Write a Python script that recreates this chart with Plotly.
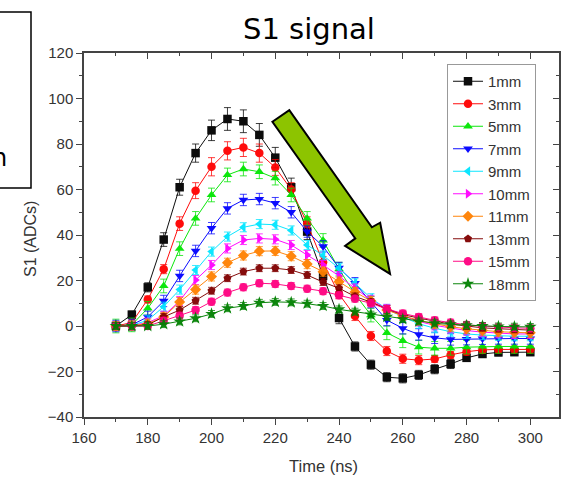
import plotly.graph_objects as go

# ---------------- data ----------------
time_ns = [170, 175, 180, 185, 190, 195, 200, 205, 210, 215, 220, 225, 230, 235,
           240, 245, 250, 255, 260, 265, 270, 275, 280, 285, 290, 295, 300]

s_1mm = [0, 5, 17, 38, 61, 76, 86, 91, 90, 84, 74, 61, 41.5, 22, 3.5, -9, -17, -22.5,
         -23, -21.5, -19, -16.7, -14, -12.3, -11.6, -11.5, -11.5]
s_3mm = [0, 1.5, 11.7, 25, 45, 59.5, 70, 77, 78.5, 76, 69.7, 60, 45, 28, 14, 4.4, -4.4,
         -11, -14.4, -15, -14.5, -12.7, -11.3, -10.5, -10.3, -10.3, -10.3]
s_5mm = [0, 0.5, 7.8, 17.6, 34, 47.3, 57.6, 66.4, 69, 67.8, 65, 57.6, 47.3, 37.6, 25, 14,
         4.8, -3, -6.5, -9.3, -9.8, -9.8, -9.3, -9, -9, -9, -9]
s_7mm = [0, 0.5, 4, 11, 22, 33, 43, 51.7, 55.4, 55.8, 54, 50, 41.5, 35, 25.5, 18.8, 10.5,
         2.6, -1, -3.7, -5.2, -5.9, -5.8, -5.6, -5.5, -5.5, -5.5]
s_9mm = [0, 0.3, 2.5, 8.5, 16, 24.6, 32.7, 39.3, 43.4, 44.8, 44.5, 42, 35.6, 31, 25.4,
         18.8, 12.2, 7.5, 4, 1, -1, -2.5, -3.5, -4, -4.3, -4.5, -4.5]
s_10mm = [0, 0.2, 1.5, 4.5, 11, 20.2, 26.8, 34.1, 37.8, 38.5, 38.1, 35.6, 31.2, 26.8, 22,
          16.5, 11.5, 7.5, 4.5, 2, 0.3, -1, -2, -2.7, -3.2, -3.5, -3.5]
s_11mm = [0, 0.2, 1, 4, 10.5, 16, 21.8, 27.8, 31, 32.9, 33, 30.7, 27.2, 23.9, 19.5, 15,
          11, 7, 4.5, 2.5, 1, -0.3, -1.2, -2, -2.5, -2.8, -3]
s_13mm = [0, 0, 0.5, 4, 7, 11.1, 15.5, 21, 23.9, 25.4, 25.4, 24.6, 22.4, 19.3, 16.6, 13,
          10.5, 7.5, 5, 3.5, 2, 0.8, 0, -0.8, -1.2, -1.5, -1.8]
s_15mm = [0, 0, 0, 2.3, 4.5, 7, 10.7, 14.7, 17, 18.8, 18.5, 17.6, 16.4, 15.3, 13.5, 12,
          10, 7.5, 5.5, 4, 2.5, 1.5, 0.5, 0, -0.5, -0.8, -1]
s_18mm = [0, 0, 0, 0.8, 2, 3.4, 5.3, 7.8, 8.8, 10.2, 10.6, 10.4, 9.8, 8.8, 7.3, 6.3, 5,
          4, 3, 2, 1.2, 0.7, 0.3, 0, -0.2, -0.3, -0.4]

err_1mm = [1, 1.5, 2, 3, 3.5, 4, 4.5, 5, 5, 5, 4.5, 4, 3.5, 3, 2.5, 2, 2, 2, 2, 2, 2, 2,
           1.5, 1.5, 1.5, 1.5, 1.5]
err_3mm = [0.8, 1, 1.5, 2, 3, 3.5, 4, 4, 4, 4, 3.5, 3, 3, 2.5, 2, 2, 2, 2, 2, 2, 1.5, 1.5,
           1.5, 1.5, 1.5, 1.5, 1.5]
err_other = [3, 2.5, 2, 2, 2, 1.5, 1.5, 1.5]   # 5mm ... 18mm (constant per series)

labels = ["1mm", "3mm", "5mm", "7mm", "9mm", "10mm", "11mm", "13mm", "15mm", "18mm"]
values = [s_1mm, s_3mm, s_5mm, s_7mm, s_9mm, s_10mm, s_11mm, s_13mm, s_15mm, s_18mm]

x_ticks = [160, 180, 200, 220, 240, 260, 280, 300]
y_ticks = [-40, -20, 0, 20, 40, 60, 80, 100, 120]

# arrow outline (data coordinates: ns, ADC)
arrow_x = [219.1, 224.4, 250.3, 252.9, 256.0, 241.9, 245.1]
arrow_y = [89.8, 94.9, 43.4, 45.4, 22.9, 35.2, 38.5]

# ---------------- style ----------------
colors = ["#000000", "#FF0000", "#00E600", "#0000FF", "#00E5FF", "#FF00FF",
          "#FF8000", "#800000", "#FF0080", "#008000"]
symbols = ["square", "circle", "triangle-up", "triangle-down", "triangle-left",
           "triangle-right", "diamond", "pentagon", "circle", "star"]

W_FIG, H_FIG = 562, 482
L, R, T, B = 84, 3, 53, 65
PW = W_FIG - L - R
PH = H_FIG - T - B


def pxx(px):
    return (px - L) / PW


def pxy(py):
    return (T + PH - py) / PH


FONT = "Liberation Sans, Arial, sans-serif"
AX = "#444444"

fig = go.Figure()

errs = [err_1mm, err_3mm] + [[e] * len(time_ns) for e in err_other]

for lab, vals, col, sym, er in zip(labels, values, colors, symbols, errs):
    fig.add_trace(go.Scatter(
        x=time_ns, y=vals, name=lab, mode="lines+markers",
        line=dict(color=col, width=1),
        marker=dict(symbol=sym, size=8.5 if sym != "star" else 9.5, color=col,
                    line=dict(width=0)),
        error_y=dict(type="data", array=er, visible=True, color=col,
                     thickness=0.8, width=3.5),
        opacity=0.95,
    ))

# dummy trace for mirrored axes
fig.add_trace(go.Scatter(x=[None], y=[None], xaxis="x2", yaxis="y2",
                         showlegend=False, hoverinfo="skip"))

# arrow
path = "M " + " L ".join(f"{a},{b}" for a, b in zip(arrow_x, arrow_y)) + " Z"
fig.add_shape(type="path", path=path, xref="x", yref="y",
              fillcolor="#8DC400", line=dict(color="black", width=2))

# partial box at left
fig.add_shape(type="rect", xref="paper", yref="paper",
              x0=pxx(-10), x1=pxx(31), y0=pxy(188), y1=pxy(12),
              line=dict(color="black", width=1.5), fillcolor="rgba(0,0,0,0)")
fig.add_annotation(text="n", xref="paper", yref="paper", x=pxx(9), y=pxy(174),
                   xanchor="right", yanchor="bottom", showarrow=False,
                   font=dict(family="DejaVu Sans", size=24, color="black"))

# title
fig.add_annotation(text="S1 signal", xref="paper", yref="paper", x=pxx(309),
                   y=pxy(29), xanchor="center", yanchor="middle", showarrow=False,
                   font=dict(family="DejaVu Sans", size=29, color="black"))
# axis titles
fig.add_annotation(text="Time (ns)", xref="paper", yref="paper", x=pxx(323),
                   y=pxy(466), xanchor="center", yanchor="middle", showarrow=False,
                   font=dict(family=FONT, size=16.5, color="#333333"))
fig.add_annotation(text="S1 (ADCs)", xref="paper", yref="paper", x=pxx(30),
                   y=pxy(239), xanchor="center", yanchor="middle", showarrow=False,
                   textangle=-90, font=dict(family=FONT, size=16, color="#333333"))

axis_common = dict(showline=True, linecolor=AX, linewidth=1.5, showgrid=False,
                   zeroline=False, tickcolor=AX, tickwidth=1.2)

fig.update_layout(
    width=W_FIG, height=H_FIG,
    margin=dict(l=L, r=R, t=T, b=B),
    paper_bgcolor="white", plot_bgcolor="white",
    font=dict(family=FONT, color="#333333"),
    xaxis=dict(range=[160, 309], tickmode="array", tickvals=x_ticks,
               ticks="outside", ticklen=6,
               minor=dict(ticks="outside", dtick=10, tick0=160, ticklen=3,
                          tickcolor=AX),
               tickfont=dict(size=15, color="#333333"), **axis_common),
    yaxis=dict(range=[-40, 120], tickmode="array", tickvals=y_ticks,
               ticks="outside", ticklen=6,
               minor=dict(ticks="outside", dtick=10, tick0=0, ticklen=3,
                          tickcolor=AX),
               tickfont=dict(size=15, color="#333333"), **axis_common),
    xaxis2=dict(range=[160, 309], overlaying="x", side="top", anchor="y2",
                tickmode="array", tickvals=x_ticks, ticks="inside", ticklen=6,
                minor=dict(ticks="inside", dtick=10, tick0=160, ticklen=3,
                           tickcolor=AX),
                showticklabels=False, **axis_common),
    yaxis2=dict(range=[-40, 120], overlaying="y", side="right", anchor="x2",
                tickmode="array", tickvals=y_ticks, ticks="inside", ticklen=6,
                minor=dict(ticks="inside", dtick=10, tick0=0, ticklen=3,
                           tickcolor=AX),
                showticklabels=False, **axis_common),
    legend=dict(x=pxx(447), y=pxy(64), xanchor="left", yanchor="top",
                bordercolor="#999999", borderwidth=1, bgcolor="white",
                font=dict(family=FONT, size=15, color="#333333"),
                tracegroupgap=0, itemwidth=30),
    showlegend=True,
)

fig.write_html(
    "out.html",
    config={"displayModeBar": False},
    post_script="document.body.style.margin='0';document.body.style.overflow='hidden';",
)
